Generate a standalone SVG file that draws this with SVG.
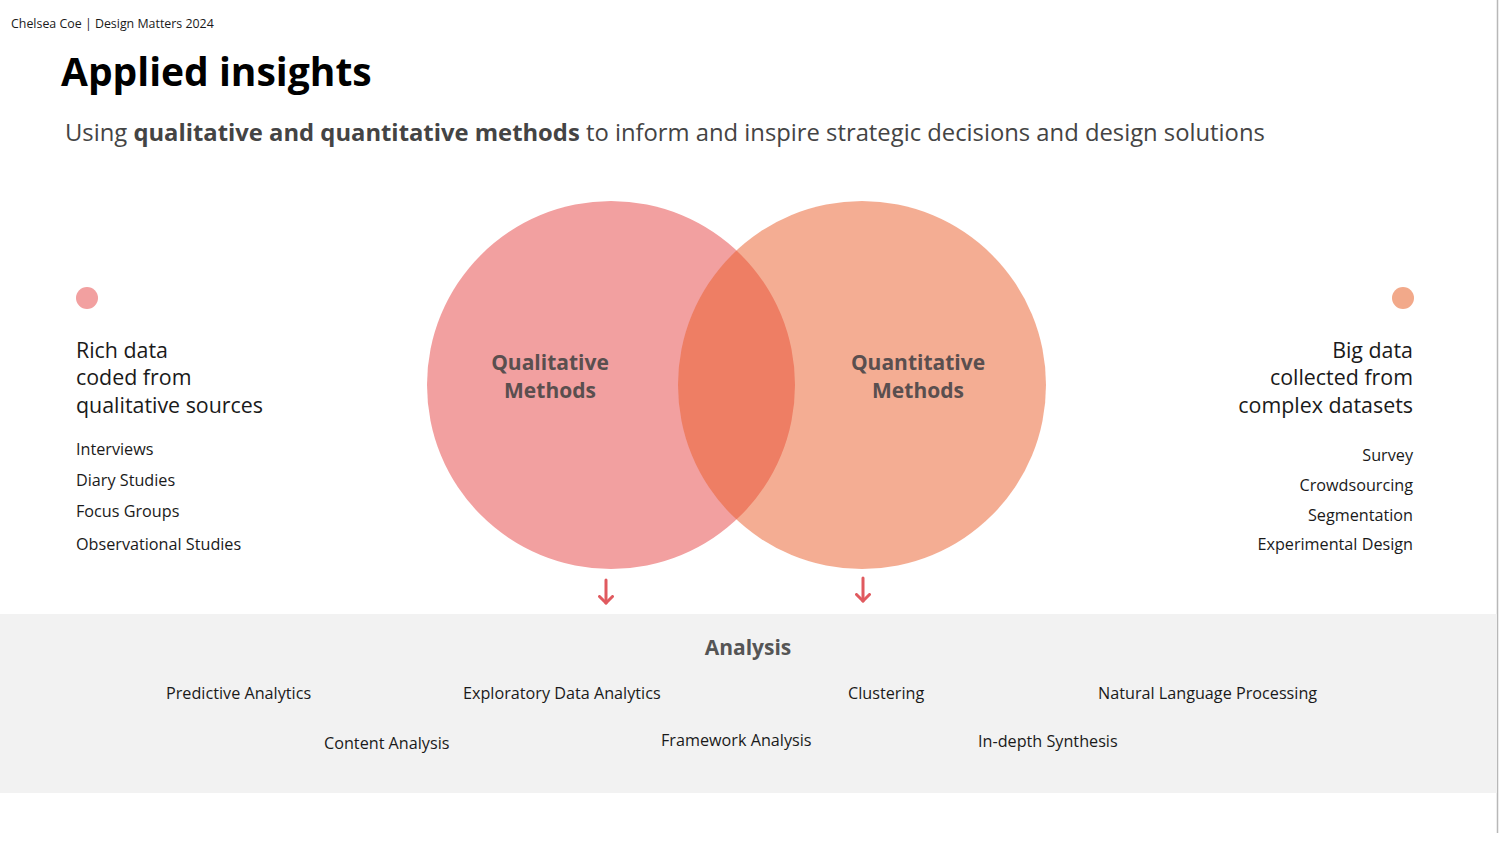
<svg xmlns="http://www.w3.org/2000/svg" width="1500" height="844" viewBox="0 0 1500 844">
<style>
text{font-family:"Open Sans","Liberation Sans",sans-serif;fill:#1a1a1a}
.title{fill:#000;font-size:39px;font-weight:bold}
.sub{fill:#444;font-size:23.8px}
.side{font-size:21.4px}
.item{font-size:16.2px}
.venn{font-size:21px;font-weight:bold;fill:#5a4f4f;text-anchor:middle}
.an{font-size:16.2px}
.antitle{fill:#555;font-size:21px;font-weight:bold;text-anchor:middle}
</style>
<defs>
<marker id="ah" markerWidth="16" markerHeight="16" refX="8" refY="8" orient="auto" markerUnits="userSpaceOnUse">
<path d="M1.5,1.5 L8,8 L1.5,14.5" fill="none" stroke="#e05a5f" stroke-width="3" stroke-linecap="round" stroke-linejoin="round"/>
</marker>
</defs>
<rect width="1500" height="844" fill="#fff"/>
<line x1="1497.5" y1="0" x2="1497.5" y2="833" stroke="#b8b8b8" stroke-width="1.5"/>
<text x="11" y="28" font-size="12.4">Chelsea Coe | Design Matters 2024</text>
<text class="title" x="61" y="86">Applied insights</text>
<text class="sub" x="65" y="141">Using <tspan font-weight="bold">qualitative and quantitative methods</tspan> to inform and inspire strategic decisions and design solutions</text>

<g id="venn">
<g id="qual"><circle cx="611" cy="385" r="184" fill="#f2a0a0"/></g>
<g id="quant"><circle cx="862" cy="385" r="184" fill="#ea5c28" fill-opacity="0.5"/></g>
<g id="qual-label"><text class="venn" x="550" y="370">Qualitative</text><text class="venn" x="550" y="398">Methods</text></g>
<g id="quant-label"><text class="venn" x="918" y="370">Quantitative</text><text class="venn" x="918" y="398">Methods</text></g>
</g>

<g id="left">
<circle cx="87" cy="298" r="11" fill="#f2a0a0"/>
<text class="side" x="76" y="358">Rich data</text>
<text class="side" x="76" y="385">coded from</text>
<text class="side" x="76" y="413">qualitative sources</text>
<text class="item" x="76" y="455">Interviews</text>
<text class="item" x="76" y="486">Diary Studies</text>
<text class="item" x="76" y="517">Focus Groups</text>
<text class="item" x="76" y="550">Observational Studies</text>
</g>

<g id="right" text-anchor="end">
<circle cx="1403" cy="298" r="11" fill="#f2a98a"/>
<text class="side" x="1413" y="358">Big data</text>
<text class="side" x="1413" y="385">collected from</text>
<text class="side" x="1413" y="413">complex datasets</text>
<text class="item" x="1413" y="461">Survey</text>
<text class="item" x="1413" y="491">Crowdsourcing</text>
<text class="item" x="1413" y="521">Segmentation</text>
<text class="item" x="1413" y="550">Experimental Design</text>
</g>

<g id="connectors" stroke="#e05a5f" stroke-width="3" fill="none" stroke-linecap="round">
<line x1="606" y1="580" x2="606" y2="603" marker-end="url(#ah)"/>
<line x1="863" y1="578" x2="863" y2="601" marker-end="url(#ah)"/>
</g>

<g id="analysis">
<rect x="0" y="614" width="1497" height="179" fill="#f2f2f2"/>
<text class="antitle" x="748" y="655">Analysis</text>
<text class="an" x="166" y="699">Predictive Analytics</text>
<text class="an" x="463" y="699">Exploratory Data Analytics</text>
<text class="an" x="848" y="699">Clustering</text>
<text class="an" x="1098" y="699">Natural Language Processing</text>
<text class="an" x="324" y="749">Content Analysis</text>
<text class="an" x="661" y="746">Framework Analysis</text>
<text class="an" x="978" y="747">In-depth Synthesis</text>
</g>
</svg>
